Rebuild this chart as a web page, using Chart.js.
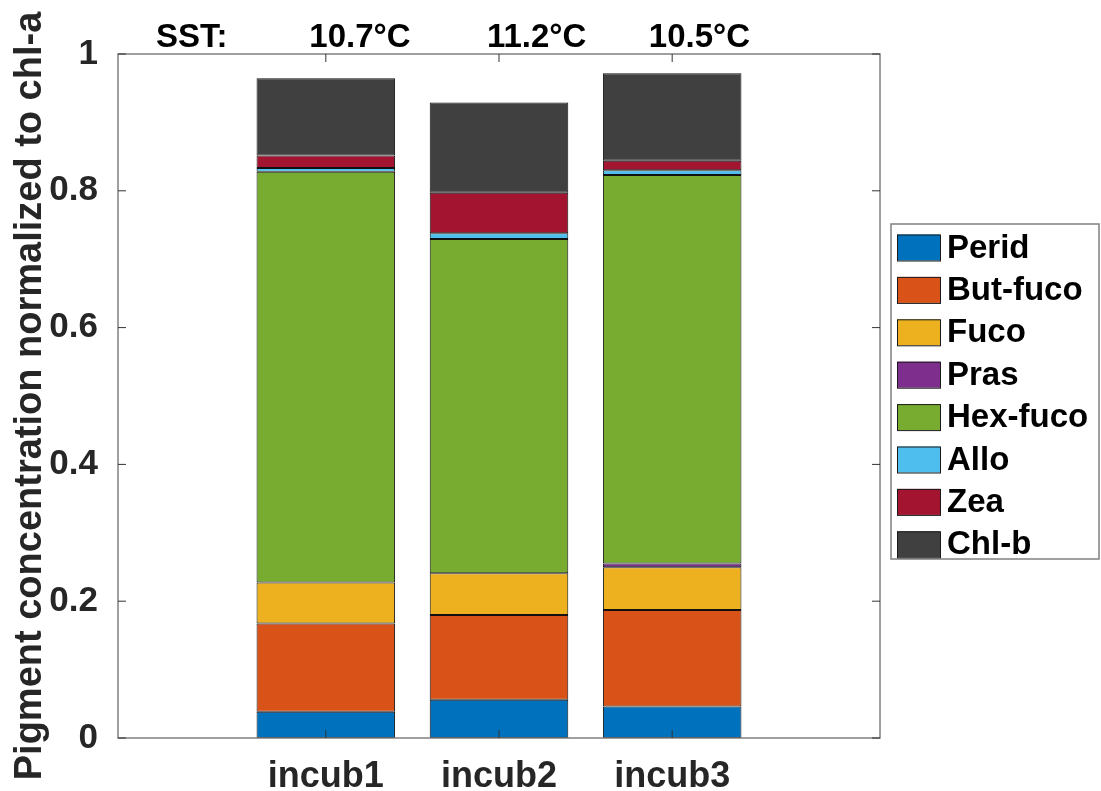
<!DOCTYPE html>
<html>
<head>
<meta charset="utf-8">
<script src="https://cdn.jsdelivr.net/npm/chart.js@4.4.1/dist/chart.umd.min.js"></script>
<style>
  html, body { margin: 0; padding: 0; background: #fff; }
  #wrap { width: 1101px; height: 791px; }
</style>
</head>
<body>
<div id="wrap"><canvas id="chart" width="1101" height="791"></canvas></div>
<script>
// Daten
const categories = ['incub1', 'incub2', 'incub3'];
const sstLabels = ['10.7°C', '11.2°C', '10.5°C'];
const pigments = ['Perid', 'But-fuco', 'Fuco', 'Pras', 'Hex-fuco', 'Allo', 'Zea', 'Chl-b'];

const perid   = [0.0385, 0.056, 0.046];
const butFuco = [0.129, 0.124, 0.141];
const fuco    = [0.060, 0.061, 0.0625];
const pras    = [0.0, 0.0, 0.0055];
const hexFuco = [0.6005, 0.4885, 0.568];
const allo    = [0.0055, 0.0085, 0.007];
const zea     = [0.018, 0.059, 0.014];
const chlB    = [0.113, 0.132, 0.128];

const yTicks = [0, 0.2, 0.4, 0.6, 0.8, 1];

const seriesValues = [perid, butFuco, fuco, pras, hexFuco, allo, zea, chlB];
const colors = ['#0072BD', '#D95319', '#EDB120', '#7E2F8E', '#77AC30', '#4DBEEE', '#A2142F', '#404040'];

const FONT = '"Liberation Sans", Arial, Helvetica, sans-serif';
const frameColor = '#808080';

// Beschriftung SST oben (x in Achsenkoordinaten)
const sstX = [0.905, 1.93, 2.865];

const datasets = pigments.map((name, i) => ({
    label: name,
    data: seriesValues[i].map((v, j) => ({ x: j + 1, y: v })),
    backgroundColor: colors[i],
    borderColor: '#111',
    borderWidth: 1,
    borderSkipped: false,
    barPercentage: 0.8,
    categoryPercentage: 1.0
}));

// Rahmen, Ticks nach innen, SST-Text und Legende
const matlabLook = {
    id: 'matlabLook',
    afterDraw(chart) {
        const ctx = chart.ctx;
        const a = chart.chartArea;
        const xs = chart.scales.x;
        const ys = chart.scales.y;
        const tl = 8;

        ctx.save();
        ctx.strokeStyle = frameColor;
        ctx.lineWidth = 1.5;
        ctx.strokeRect(a.left, a.top, a.right - a.left, a.bottom - a.top);

        ctx.beginPath();
        yTicks.forEach(v => {
            const y = ys.getPixelForValue(v);
            ctx.moveTo(a.left, y); ctx.lineTo(a.left + tl, y);
            ctx.moveTo(a.right, y); ctx.lineTo(a.right - tl, y);
        });
        categories.forEach((c, i) => {
            const x = xs.getPixelForValue(i + 1);
            ctx.moveTo(x, a.bottom); ctx.lineTo(x, a.bottom - tl);
            ctx.moveTo(x, a.top); ctx.lineTo(x, a.top + tl);
        });
        ctx.strokeStyle = '#333';
        ctx.lineWidth = 1;
        ctx.stroke();

        // SST Zeile
        ctx.fillStyle = '#000';
        ctx.font = 'bold 33px ' + FONT;
        ctx.textBaseline = 'alphabetic';
        ctx.textAlign = 'left';
        ctx.fillText('SST:', xs.getPixelForValue(0.02), 47);
        sstLabels.forEach((t, i) => {
            ctx.fillText(t, xs.getPixelForValue(sstX[i]), 47);
        });

        // Legende
        const lx = 891, ly = 224, lw = 208, lh = 335;
        ctx.fillStyle = '#fff';
        ctx.fillRect(lx, ly, lw, lh);
        ctx.strokeStyle = frameColor;
        ctx.lineWidth = 1.5;
        ctx.strokeRect(lx, ly, lw, lh);
        ctx.font = 'bold 33px ' + FONT;
        ctx.textBaseline = 'middle';
        chart.data.datasets.forEach((ds, i) => {
            const cy = 247.5 + i * 42.4;
            ctx.fillStyle = ds.backgroundColor;
            ctx.fillRect(897, cy - 13, 43, 26);
            ctx.strokeStyle = '#1a1a1a';
            ctx.lineWidth = 1;
            ctx.strokeRect(897.5, cy - 12.5, 43, 26);
            ctx.fillStyle = '#000';
            ctx.fillText(ds.label, 947, cy + 1);
        });
        ctx.restore();
    }
};

new Chart(document.getElementById('chart'), {
    type: 'bar',
    data: { datasets: datasets },
    options: {
        responsive: false,
        animation: false,
        layout: { padding: { top: 54, right: 221, left: 0, bottom: 0 } },
        plugins: {
            legend: { display: false },
            tooltip: { enabled: false }
        },
        scales: {
            x: {
                type: 'linear',
                stacked: true,
                offset: false,
                min: -0.2,
                max: 4.2,
                grid: { display: false, offset: false },
                border: { display: false },
                afterBuildTicks: scale => {
                    scale.ticks = categories.map((c, i) => ({ value: i + 1 }));
                },
                afterFit: scale => { scale.height = 53; },
                ticks: {
                    autoSkip: false,
                    maxRotation: 0,
                    padding: 9,
                    color: '#262626',
                    font: { family: FONT, size: 36, weight: 'bold' },
                    callback: v => categories[v - 1]
                }
            },
            y: {
                stacked: true,
                min: 0,
                max: 1,
                grid: { display: false },
                border: { display: false },
                afterBuildTicks: scale => {
                    scale.ticks = yTicks.map(v => ({ value: v }));
                },
                afterFit: scale => { scale.width = 118; },
                ticks: {
                    padding: 12,
                    color: '#262626',
                    font: { family: FONT, size: 35, weight: 'bold' },
                    callback: v => String(+v.toFixed(1))
                },
                title: {
                    display: true,
                    text: 'Pigment concentration normalized to chl-a',
                    color: '#262626',
                    font: { family: FONT, size: 38, weight: 'bold' },
                    padding: { top: 8, bottom: 0 }
                }
            }
        }
    },
    plugins: [matlabLook]
});
</script>
</body>
</html>
